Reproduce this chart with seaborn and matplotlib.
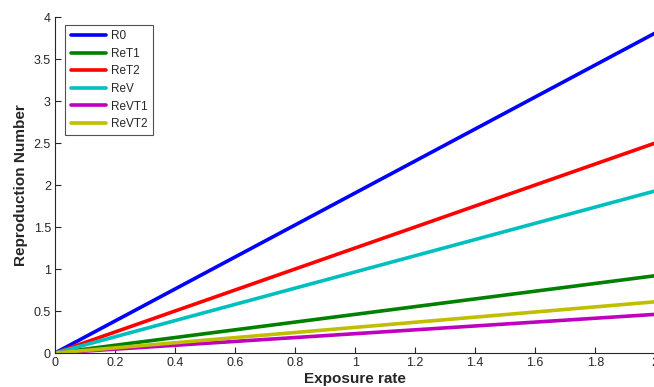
import matplotlib
matplotlib.use("Agg")
import matplotlib.pyplot as plt
import seaborn as sns
import pandas as pd

exposure = [0.0, 2.0]
R0 = [0.0, 3.81]
ReT1 = [0.0, 0.92]
ReT2 = [0.0, 2.50]
ReV = [0.0, 1.93]
ReVT1 = [0.0, 0.46]
ReVT2 = [0.0, 0.61]
names = ["R0", "ReT1", "ReT2", "ReV", "ReVT1", "ReVT2"]
series = [R0, ReT1, ReT2, ReV, ReVT1, ReVT2]
colors = ["#0000ff", "#008000", "#ff0000", "#00bfbf", "#bf00bf", "#bfbf00"]

rows = []
for n, s in zip(names, series):
    for x, y in zip(exposure, s):
        rows.append({"Exposure rate": x, "value": y, "series": n})
df = pd.DataFrame(rows)

sns.set_style("white")
plt.rcParams["font.family"] = ["Liberation Sans", "DejaVu Sans"]

fig = plt.figure(figsize=(6.54, 3.87), dpi=100)
ax = fig.add_axes([55/654, 1-353/387, 1.0 - 55/654 + 0.002, (353-17)/387])
sns.lineplot(data=df, x="Exposure rate", y="value", hue="series",
             hue_order=names, palette=colors, linewidth=2.6, ax=ax)
ax.set_xlim(0, 2)
ax.set_ylim(0, 4)
ax.set_xticks([0, 0.2, 0.4, 0.6, 0.8, 1, 1.2, 1.4, 1.6, 1.8, 2])
ax.set_xticklabels(["0", "0.2", "0.4", "0.6", "0.8", "1", "1.2", "1.4", "1.6", "1.8", "2"])
ax.set_yticks([0, 0.5, 1, 1.5, 2, 2.5, 3, 3.5, 4])
ax.set_yticklabels(["0", "0.5", "1", "1.5", "2", "2.5", "3", "3.5", "4"])
ax.tick_params(direction="in", length=4, width=0.8, labelsize=9, colors="#262626",
               left=True, bottom=True, pad=3)
for s in ["top", "right"]:
    ax.spines[s].set_visible(False)
for s in ["left", "bottom"]:
    ax.spines[s].set_color("#262626")
    ax.spines[s].set_linewidth(0.8)
ax.set_xlabel("Exposure rate", fontsize=11, fontweight="bold", labelpad=2)
ax.set_ylabel("Reproduction Number", fontsize=11, fontweight="bold", labelpad=4)
leg = ax.legend(loc="upper left", bbox_to_anchor=(0.017, 0.976), fontsize=8.5,
                frameon=True, fancybox=False, handlelength=3.0, handletextpad=0.45,
                borderpad=0.45, labelspacing=0.47, borderaxespad=0)
leg.get_frame().set_edgecolor("#262626")
leg.get_frame().set_linewidth(0.8)
for h in leg.get_lines():
    h.set_linewidth(2.6)
fig.savefig("out.png", dpi=100)
